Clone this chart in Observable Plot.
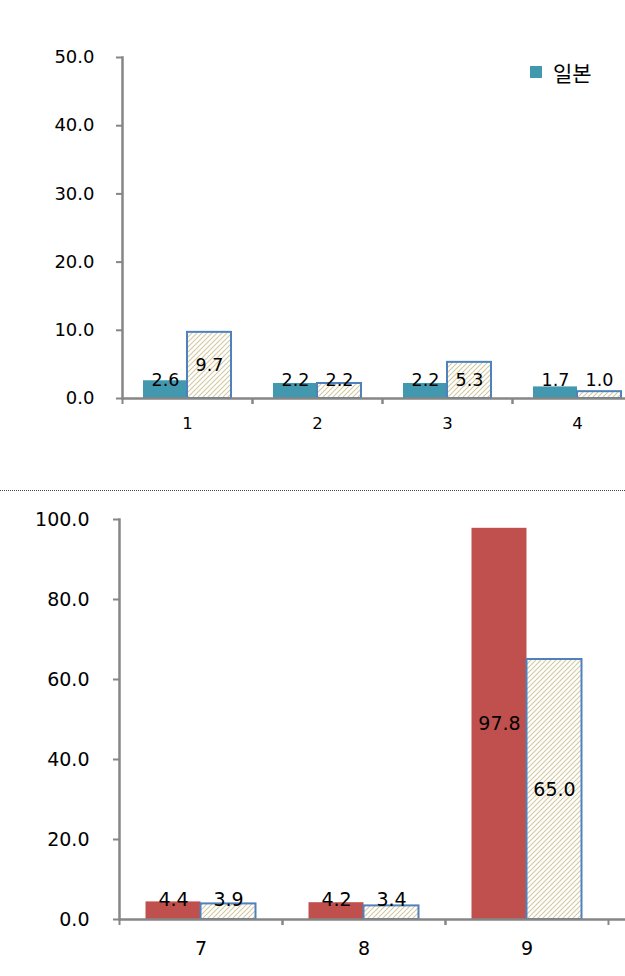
<!DOCTYPE html>
<html><head><meta charset="utf-8">
<script src="https://cdn.jsdelivr.net/npm/d3@7"></script>
<script src="https://cdn.jsdelivr.net/npm/@observablehq/plot@0.6"></script>
<style>
html,body{margin:0;padding:0;background:#fff;overflow:hidden}
#wrap{position:relative;width:625px;height:976px;font-family:"DejaVu Sans","Noto Sans CJK KR",sans-serif}
#top{position:absolute;left:0;top:0}
#sep{position:absolute;left:0;top:490px;width:625px;height:0;border-top:1px dotted #444}
#bottom{position:absolute;left:0;top:491px}
#legend{position:absolute;left:530px;top:57px;height:30px;display:flex;align-items:center;font-family:"Noto Sans CJK KR",sans-serif;font-size:21px;color:#000}
#legend .sw{width:12px;height:12px;margin-right:11px}
</style></head>
<body><div id="wrap"><div id="top"></div><div id="sep"></div><div id="bottom"></div><div id="legend"></div></div>
<script>
// ---- data ----
const topCategories = ["1", "2", "3", "4"];
const topJapan = [2.6, 2.2, 2.2, 1.7];
const topOther = [9.7, 2.2, 5.3, 1.0];
const topTicks = [0, 10, 20, 30, 40, 50];

const bottomCategories = ["7", "8", "9"];
const bottomRed = [4.4, 4.2, 97.8];
const bottomOther = [3.9, 3.4, 65.0];
const bottomTicks = [0, 20, 40, 60, 80, 100];

const legendLabel = "일본";

// ---- styles ----
const teal = "#4198AF";
const red = "#C0504D";
const hatchBorder = "#4F81BD";
const hatchLine = "#D3C8A0";
const axisGray = "#868686";

function addHatch(svg, id) {
  const ns = "http://www.w3.org/2000/svg";
  const defs = document.createElementNS(ns, "defs");
  defs.innerHTML = `<pattern id="${id}" patternUnits="userSpaceOnUse" width="5" height="5">
    <rect width="5" height="5" fill="white"/>
    <path d="M-1,1 l2,-2 M0,5 l5,-5 M4,6 l2,-2" stroke="${hatchLine}" stroke-width="1.1"/>
  </pattern>`;
  svg.insertBefore(defs, svg.firstChild);
}

function panel(cfg) {
  const {cats, a, b, ticks, aColor, hatchId, height, marginTop, marginBottom, marginLeft,
         xRange, barW, labelFloor, tickFont, valueFont, xFont, yPad, xPad} = cfg;
  const rowsA = cats.map((c, i) => ({cat: c, v: a[i]}));
  const rowsB = cats.map((c, i) => ({cat: c, v: b[i]}));
  const bw = (xRange[1] - xRange[0]) / cats.length;
  const svg = Plot.plot({
    width: 625,
    height,
    marginTop, marginBottom, marginLeft, marginRight: 0,
    style: {fontFamily: "'DejaVu Sans', 'Noto Sans CJK KR', sans-serif", background: "transparent", color: "black"},
    x: {domain: cats, range: xRange, padding: 0},
    y: {domain: [ticks[0], ticks[ticks.length - 1]]},
    marks: [
      Plot.barY(rowsA, {x: "cat", y: "v", fill: aColor, insetLeft: bw / 2 - barW, insetRight: bw / 2}),
      Plot.barY(rowsB, {x: "cat", y: "v", fill: `url(#${hatchId})`, stroke: hatchBorder, strokeWidth: 2,
                        insetLeft: bw / 2, insetRight: bw / 2 - barW}),
      Plot.frame({anchor: "left", stroke: axisGray, strokeWidth: 2.5}),
      Plot.ruleY([0], {stroke: axisGray, strokeWidth: 2.5}),
      Plot.axisY({ticks, tickFormat: d => d.toFixed(1), tickSize: 6, tickPadding: yPad,
                  stroke: axisGray, strokeWidth: 2, fill: "black", fontSize: tickFont, label: null}),
      Plot.axisX({tickSize: 6, tickFormat: () => "", dx: -bw / 2, stroke: axisGray, strokeWidth: 2, label: null}),
      Plot.axisX({tickSize: 6, tickFormat: () => "", dx: bw / 2, stroke: axisGray, strokeWidth: 2, label: null}),
      Plot.axisX({tickSize: 0, tickPadding: xPad, fill: "black", fontSize: xFont, label: null}),
      Plot.text(rowsA, {x: "cat", y: d => Math.max(d.v / 2, labelFloor), text: d => d.v.toFixed(1),
                        dx: -barW / 2, fontSize: valueFont, fill: "black"}),
      Plot.text(rowsB, {x: "cat", y: d => Math.max(d.v / 2, labelFloor), text: d => d.v.toFixed(1),
                        dx: barW / 2, fontSize: valueFont, fill: "black"})
    ]
  });
  addHatch(svg, hatchId);
  return svg;
}

document.getElementById("top").append(panel({
  cats: topCategories, a: topJapan, b: topOther, ticks: topTicks, aColor: teal, hatchId: "hatchTop",
  height: 470, marginTop: 57, marginBottom: 72, marginLeft: 122, xRange: [122, 642], barW: 44,
  labelFloor: 2.7, tickFont: 18, valueFont: 17.5, xFont: 16.5, yPad: 22, xPad: 19
}));

document.getElementById("bottom").append(panel({
  cats: bottomCategories, a: bottomRed, b: bottomOther, ticks: bottomTicks, aColor: red, hatchId: "hatchBottom",
  height: 485, marginTop: 28, marginBottom: 57, marginLeft: 119, xRange: [119, 608], barW: 55,
  labelFloor: 5.0, tickFont: 19, valueFont: 19, xFont: 19, yPad: 24, xPad: 22
}));

const lg = document.getElementById("legend");
const sw = document.createElement("div");
sw.className = "sw";
sw.style.background = teal;
const lt = document.createElement("span");
lt.textContent = legendLabel;
lg.append(sw, lt);
</script>
</body></html>
